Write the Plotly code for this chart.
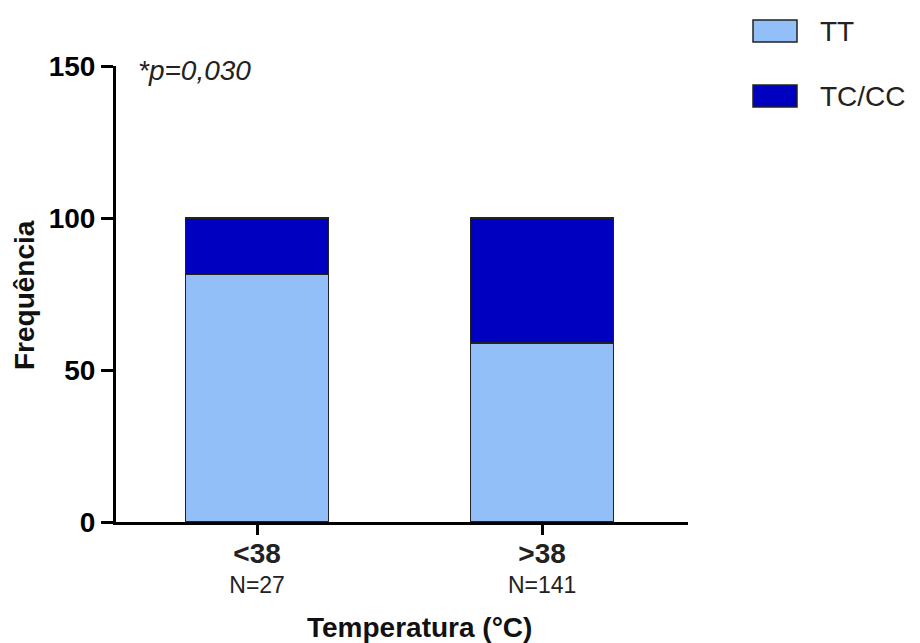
import plotly.graph_objects as go

categories = ["<38", ">38"]
n_labels = ["N=27", "N=141"]
series_names = ["TT", "TC/CC"]
tt_values = [81.5, 58.9]
tccc_values = [18.5, 41.1]
y_ticks = [0, 50, 100, 150]
p_text = "*p=0,030"
x_title = "Temperatura (°C)"
y_title = "Frequência"

colors = ["#92BFF8", "#0000C0"]

OFF = 8  # default body margin of the html page
W, H = 912, 635
L, R, T, B = 108, 232, 58, 121
pw, ph = W - L - R, H - T - B

def px(x):
    return (x - OFF - L) / pw

def py(y):
    return (H - B - (y - OFF)) / ph

FONT = "Liberation Sans, Arial, sans-serif"

fig = go.Figure()
for name, vals, col in zip(series_names, [tt_values, tccc_values], colors):
    fig.add_trace(go.Bar(
        x=list(range(len(categories))), y=vals, name=name,
        marker=dict(color=col, line=dict(color="#222222", width=1.2)),
        width=0.5, showlegend=False,
    ))

ticktext = [f"<span style='font-size:28px'><b>{c.replace('<', '&lt;').replace('>', '&gt;')}</b></span><br>{n}"
            for c, n in zip(categories, n_labels)]

fig.update_layout(
    width=W, height=H,
    margin=dict(l=L, r=R, t=T, b=B),
    barmode="stack",
    plot_bgcolor="white", paper_bgcolor="white",
    font=dict(family=FONT, color="black"),
    xaxis=dict(
        range=[-0.495, 1.512], tickvals=list(range(len(categories))), ticktext=ticktext,
        showline=True, linecolor="black", linewidth=3,
        ticks="outside", ticklen=10, tickwidth=3, tickcolor="black",
        tickfont=dict(size=23, color="#222222"), showgrid=False, zeroline=False,
    ),
    yaxis=dict(
        range=[0, 150], tickvals=y_ticks,
        showline=True, linecolor="black", linewidth=3,
        ticks="outside", ticklen=12, tickwidth=3, tickcolor="black",
        tickfont=dict(size=28, color="black", weight="bold"), showgrid=False, zeroline=False,
    ),
)

fig.add_annotation(
    x=px(419), y=py(627), xref="paper", yref="paper", text=f"<b>{x_title}</b>",
    showarrow=False, xanchor="center", yanchor="middle", font=dict(size=28, color="#111111"),
)
fig.add_annotation(
    x=px(24), y=py(295), xref="paper", yref="paper", text=f"<b>{y_title}</b>",
    showarrow=False, xanchor="center", yanchor="middle", textangle=-90,
    font=dict(size=28, color="#111111"),
)
fig.add_annotation(
    x=px(136), y=py(70), xref="paper", yref="paper", text=f"<i>{p_text}</i>",
    showarrow=False, xanchor="left", yanchor="middle", font=dict(size=28, color="#222222"),
)

legend_rows = [31, 96]
for name, col, yc in zip(series_names, colors, legend_rows):
    fig.add_shape(type="rect", xref="paper", yref="paper",
                  x0=px(753), x1=px(797), y0=py(yc - 11), y1=py(yc + 11),
                  fillcolor=col, line=dict(color="#222222", width=1.5))
    fig.add_annotation(x=px(818), y=py(yc), xref="paper", yref="paper", text=name,
                       showarrow=False, xanchor="left", yanchor="middle",
                       font=dict(size=28, color="#222222"))

fig.write_html("out.html")
